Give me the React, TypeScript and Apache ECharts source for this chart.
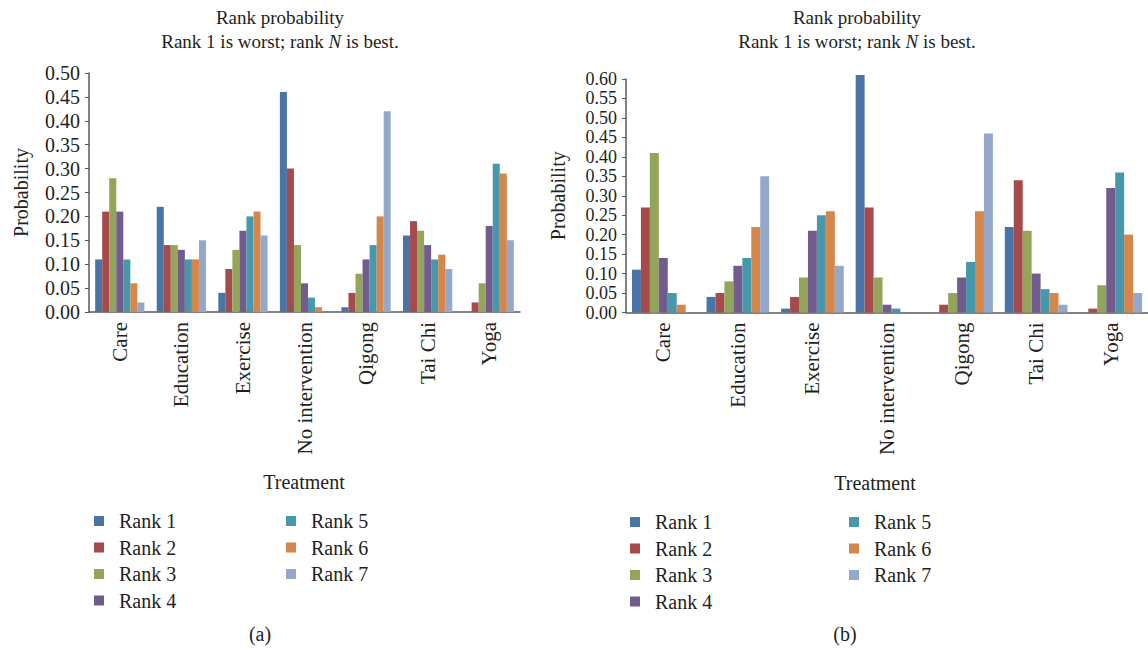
import React, { useEffect, useRef } from "react";
import * as echarts from "echarts";

const categories = ["Care", "Education", "Exercise", "No intervention", "Qigong", "Tai Chi", "Yoga"];
const rankNames = ["Rank 1", "Rank 2", "Rank 3", "Rank 4", "Rank 5", "Rank 6", "Rank 7"];
const rankColors = ["#4a74a6", "#a54b4b", "#93a55a", "#725c8e", "#4898ac", "#d5864a", "#94a8cb"];

// Panel (a): values per rank, across categories
const panelA = [
  [0.11, 0.22, 0.04, 0.46, 0.01, 0.16, 0.0],
  [0.21, 0.14, 0.09, 0.30, 0.04, 0.19, 0.02],
  [0.28, 0.14, 0.13, 0.14, 0.08, 0.17, 0.06],
  [0.21, 0.13, 0.17, 0.06, 0.11, 0.14, 0.18],
  [0.11, 0.11, 0.20, 0.03, 0.14, 0.11, 0.31],
  [0.06, 0.11, 0.21, 0.01, 0.20, 0.12, 0.29],
  [0.02, 0.15, 0.16, 0.0, 0.42, 0.09, 0.15],
];

// Panel (b)
const panelB = [
  [0.11, 0.04, 0.01, 0.61, 0.0, 0.22, 0.0],
  [0.27, 0.05, 0.04, 0.27, 0.02, 0.34, 0.01],
  [0.41, 0.08, 0.09, 0.09, 0.05, 0.21, 0.07],
  [0.14, 0.12, 0.21, 0.02, 0.09, 0.10, 0.32],
  [0.05, 0.14, 0.25, 0.01, 0.13, 0.06, 0.36],
  [0.02, 0.22, 0.26, 0.0, 0.26, 0.05, 0.20],
  [0.0, 0.35, 0.12, 0.0, 0.46, 0.02, 0.05],
];

const yMaxA = 0.5;
const yMaxB = 0.6;
const yStep = 0.05;

const FONT = "'Liberation Serif', 'Times New Roman', serif";
const TXT = "#231f20";
const AXIS = "#5a5a5a";

export default function App() {
  const ref = useRef<HTMLDivElement>(null);

  useEffect(() => {
    if (!ref.current) return;
    const chart = echarts.init(ref.current, undefined, { renderer: "svg" });

    const titleText = "Rank probability\nRank 1 is worst; rank {i|N} is best.";
    const titleStyle = {
      fontFamily: FONT,
      fontSize: 19,
      fontWeight: "normal",
      color: TXT,
      lineHeight: 24,
      rich: {
        i: { fontFamily: FONT, fontSize: 19, fontStyle: "italic", color: TXT, lineHeight: 24 },
      },
    };

    const makeX = (gridIndex: number) => ({
      type: "category",
      gridIndex,
      data: categories,
      axisLine: { lineStyle: { color: AXIS, width: 1.5 } },
      axisTick: { show: false },
      axisLabel: {
        rotate: 90,
        interval: 0,
        margin: 10,
        fontFamily: FONT,
        fontSize: 21,
        color: TXT,
      },
    });

    const makeY = (gridIndex: number, max: number, fs: number) => ({
      type: "value",
      gridIndex,
      min: 0,
      max,
      interval: yStep,
      name: "Probability",
      nameLocation: "middle",
      nameRotate: 90,
      nameGap: 58,
      nameTextStyle: { fontFamily: FONT, fontSize: 20, color: TXT },
      splitLine: { show: false },
      axisLine: { show: true, lineStyle: { color: AXIS, width: 1.5 } },
      axisTick: { show: true, length: 4, lineStyle: { color: AXIS } },
      axisLabel: {
        margin: 9,
        fontFamily: FONT,
        fontSize: fs,
        lineHeight: fs,
        color: TXT,
        showMinLabel: true,
        showMaxLabel: true,
        hideOverlap: false,
        formatter: (v: number) => v.toFixed(2),
      },
    });

    const makeSeries = (data: number[][], idx: number, catGap: string) =>
      data.map((vals, i) => ({
        type: "bar",
        name: rankNames[i],
        xAxisIndex: idx,
        yAxisIndex: idx,
        data: vals,
        clip: false,
        barGap: "0%",
        barCategoryGap: catGap,
        itemStyle: { color: rankColors[i] },
      }));

    const legendBase = {
      orient: "vertical",
      icon: "rect",
      itemWidth: 10,
      itemHeight: 10,
      itemGap: 6.5,
      selectedMode: false,
      textStyle: {
        fontFamily: FONT,
        fontSize: 20,
        color: TXT,
        lineHeight: 20,
        padding: [0, 0, 0, 10],
      },
    };

    const plainText = (text: string, x: number, y: number) => ({
      type: "text",
      x,
      y,
      style: {
        text,
        fontFamily: FONT,
        fontSize: 20,
        fill: TXT,
        textAlign: "center",
        textVerticalAlign: "middle",
      },
    });

    chart.setOption({
      animation: false,
      color: rankColors,
      title: [
        { text: titleText, left: 275, top: 0, textAlign: "center", textStyle: titleStyle },
        { text: titleText, left: 852, top: 0, textAlign: "center", textStyle: titleStyle },
      ],
      grid: [
        { left: 89, right: 1148 - 520, top: 73, bottom: 652 - 312, containLabel: false },
        { left: 626, right: -4, top: 79, bottom: 652 - 312.5, containLabel: false },
      ],
      xAxis: [makeX(0), makeX(1)],
      yAxis: [makeY(0, yMaxA, 20), makeY(1, yMaxB, 18)],
      legend: [
        { ...legendBase, data: rankNames.slice(0, 4), left: 89, top: 506 },
        { ...legendBase, data: rankNames.slice(4), left: 281, top: 506 },
        { ...legendBase, data: rankNames.slice(0, 4), left: 625, top: 507 },
        { ...legendBase, data: rankNames.slice(4), left: 844, top: 507 },
      ],
      graphic: [
        plainText("Treatment", 304, 482),
        plainText("Treatment", 875, 483),
        plainText("(a)", 260, 634),
        plainText("(b)", 845, 634),
      ],
      series: [...makeSeries(panelA, 0, "20%"), ...makeSeries(panelB, 1, "16%")],
    });

    return () => chart.dispose();
  }, []);

  return (
    <div
      ref={ref}
      style={{ position: "absolute", left: 0, top: 0, width: 1148, height: 652, background: "#fff" }}
    />
  );
}
